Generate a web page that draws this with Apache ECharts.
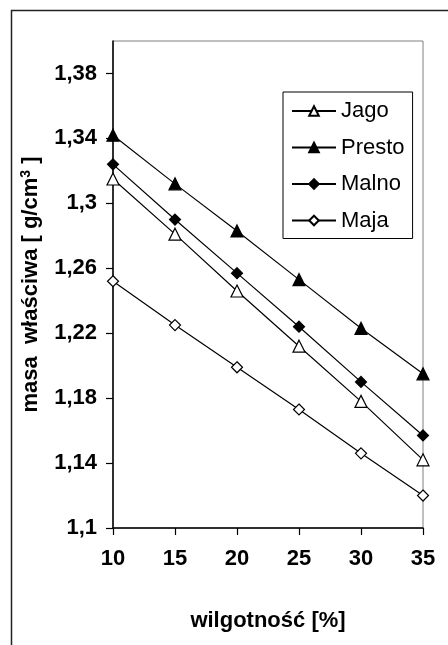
<!DOCTYPE html>
<html>
<head>
<meta charset="utf-8">
<script src="https://cdn.jsdelivr.net/npm/echarts@6/dist/echarts.min.js"></script>
<style>
  html, body { margin: 0; padding: 0; background: #fff; }
  #chart { width: 448px; height: 645px; }
</style>
</head>
<body>
<div id="chart"></div>
<script>
const xValues = [10, 15, 20, 25, 30, 35];
const xTicks = [10, 15, 20, 25, 30, 35];
const yTicks = [1.1, 1.14, 1.18, 1.22, 1.26, 1.3, 1.34, 1.38];
const seriesNames = ['Jago', 'Presto', 'Malno', 'Maja'];
const jago   = [1.315, 1.281, 1.246, 1.212, 1.178, 1.142];
const presto = [1.342, 1.312, 1.283, 1.253, 1.223, 1.195];
const malno  = [1.324, 1.290, 1.257, 1.224, 1.190, 1.157];
const maja   = [1.252, 1.225, 1.199, 1.173, 1.146, 1.120];

const FONT = '"Liberation Sans", Arial, sans-serif';
const fmt = v => String(+(+v).toFixed(2)).replace('.', ',');

function mk(name, data, symbol, filled) {
  return {
    name: name,
    type: 'line',
    data: xValues.map((x, i) => [x, data[i]]),
    symbol: symbol,
    symbolSize: symbol === 'triangle' ? 12 : 11,
    showSymbol: true,
    lineStyle: { color: '#000', width: 1.2 },
    itemStyle: { color: filled ? '#000' : '#fff', borderColor: '#000', borderWidth: 1.2 },
    emphasis: { disabled: true },
    animation: false,
    z: 3
  };
}

const chart = echarts.init(document.getElementById('chart'), null, { renderer: 'canvas' });
chart.setOption({
  animation: false,
  backgroundColor: '#fff',
  textStyle: { fontFamily: FONT, color: '#000' },
  graphic: [{
    type: 'rect',
    shape: { x: 11.5, y: 10.5, width: 600, height: 800 },
    style: { fill: 'none', stroke: '#222', lineWidth: 1.5 },
    silent: true, z: 0
  }],
  grid: {
    left: 113, top: 41, right: 25, bottom: 117,
    show: true, borderColor: '#808080', borderWidth: 1, backgroundColor: 'transparent'
  },
  legend: {
    orient: 'vertical',
    left: 283, top: 92,
    width: 130,
    padding: [8, 8, 7, 8],
    itemWidth: 44, itemHeight: 12,
    itemGap: 14.5,
    borderColor: '#000', borderWidth: 1,
    backgroundColor: '#fff',
    textStyle: { fontFamily: FONT, fontSize: 22, color: '#000', padding: [0, 0, 0, 0] },
    data: seriesNames
  },
  xAxis: {
    type: 'value',
    min: 10, max: 35, interval: 5,
    name: 'wilgotność [%]',
    nameLocation: 'middle',
    nameGap: 82,
    nameTextStyle: { fontFamily: FONT, fontSize: 22, fontWeight: 'bold', color: '#000', verticalAlign: 'top' },
    axisLine: { show: true, onZero: false, lineStyle: { color: '#000', width: 1.5 } },
    axisTick: { show: true, inside: false, length: 7, lineStyle: { color: '#000', width: 1.2 }, customValues: xTicks },
    axisLabel: { fontFamily: FONT, fontSize: 22, fontWeight: 'bold', color: '#000', margin: 20, customValues: xTicks, formatter: fmt },
    splitLine: { show: false }
  },
  yAxis: {
    type: 'value',
    min: 1.1, max: 1.4,
    name: 'masa  właściwa [ g/cm{sup|3} ]',
    nameLocation: 'middle',
    nameGap: 70,
    nameRotate: 90,
    nameTextStyle: {
      fontFamily: FONT, fontSize: 22, fontWeight: 'bold', color: '#000',
      rich: { sup: { fontFamily: FONT, fontSize: 14, fontWeight: 'bold', color: '#000', verticalAlign: 'top', padding: [0, 0, 10, 0] } }
    },
    axisLine: { show: true, onZero: false, lineStyle: { color: '#000', width: 1.5 } },
    axisTick: { show: true, inside: false, length: 7, lineStyle: { color: '#000', width: 1.2 }, customValues: yTicks },
    axisLabel: { fontFamily: FONT, fontSize: 22, fontWeight: 'bold', color: '#000', margin: 16, customValues: yTicks, formatter: fmt },
    splitLine: { show: false }
  },
  series: [
    mk('Jago', jago, 'triangle', false),
    mk('Presto', presto, 'triangle', true),
    mk('Malno', malno, 'diamond', true),
    mk('Maja', maja, 'diamond', false)
  ]
});
</script>
</body>
</html>
